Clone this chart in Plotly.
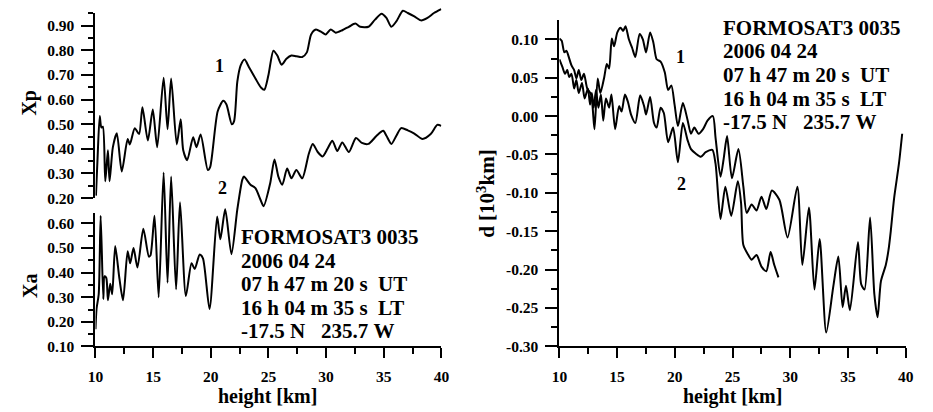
import plotly.graph_objects as go

# ---------------- data ----------------
# Left panel, curve 1: Xp vs height
h_xp = [10.04, 10.17, 10.37, 10.51, 10.64, 10.85, 11.08, 11.22, 11.51, 11.85, 12.28, 12.79, 12.98,
        13.41, 13.78, 14.07, 14.54, 14.97, 15.35, 15.91, 16.25, 16.56, 17.05, 17.39, 17.61, 17.95,
        18.47, 18.76, 19.12, 19.74, 19.95, 20.60, 21.08, 21.36, 21.82, 22.02, 22.30, 22.59, 22.93,
        23.30, 23.87, 24.35, 24.64, 25.00, 25.43, 25.77, 26.14, 26.56, 26.99, 27.42, 27.93, 28.33,
        28.70, 29.12, 29.55, 29.97, 30.40, 30.83, 31.40, 31.97, 32.53, 32.96, 33.67, 34.24, 34.81,
        35.23, 35.66, 36.09, 36.66, 37.08, 37.65, 38.22, 38.79, 39.35, 39.98]
xp = [0.21, 0.35, 0.533, 0.487, 0.49, 0.268, 0.394, 0.268, 0.407, 0.463, 0.308, 0.44, 0.418,
      0.484, 0.46, 0.569, 0.434, 0.56, 0.407, 0.689, 0.48, 0.686, 0.418, 0.52, 0.394, 0.354,
      0.447, 0.407, 0.458, 0.314, 0.327, 0.553, 0.595, 0.58, 0.50, 0.513, 0.673, 0.739, 0.763,
      0.733, 0.686, 0.649, 0.64, 0.70, 0.799, 0.779, 0.742, 0.766, 0.779, 0.776, 0.773, 0.792,
      0.865, 0.885, 0.876, 0.865, 0.885, 0.872, 0.882, 0.896, 0.909, 0.896, 0.896, 0.925, 0.949,
      0.932, 0.896, 0.918, 0.961, 0.952, 0.938, 0.922, 0.932, 0.952, 0.968]

# Left panel, curve 2: Xa vs height
h_xa = [10.00, 10.09, 10.28, 10.45, 10.68, 10.79, 10.94, 11.08, 11.28, 11.45, 11.71, 12.07, 12.39,
        12.79, 13.01, 13.30, 13.64, 14.15, 14.63, 14.77, 15.12, 15.48, 15.91, 16.25, 16.56, 16.99,
        17.33, 17.84, 18.33, 18.61, 19.04, 19.32, 19.89, 20.55, 20.83, 21.25, 21.79, 22.30, 22.73,
        22.87, 23.44, 23.87, 24.30, 24.58, 25.15, 25.52, 25.86, 26.20, 26.62, 26.99, 27.42, 27.93,
        28.50, 28.84, 29.27, 29.69, 30.12, 30.54, 30.97, 31.40, 31.97, 32.59, 33.10, 33.67, 34.38,
        34.95, 35.23, 35.66, 36.09, 36.51, 37.08, 37.65, 38.36, 39.07, 39.64, 39.98]
xa = [0.17, 0.252, 0.312, 0.631, 0.292, 0.385, 0.378, 0.288, 0.355, 0.312, 0.508, 0.378, 0.288,
      0.487, 0.438, 0.50, 0.421, 0.578, 0.465, 0.47, 0.631, 0.30, 0.807, 0.359, 0.79, 0.332,
      0.686, 0.305, 0.438, 0.415, 0.474, 0.458, 0.252, 0.628, 0.535, 0.657, 0.475, 0.657, 0.777,
      0.79, 0.757, 0.743, 0.697, 0.67, 0.763, 0.86, 0.79, 0.757, 0.823, 0.783, 0.817, 0.783,
      0.883, 0.923, 0.89, 0.872, 0.903, 0.936, 0.894, 0.929, 0.89, 0.947, 0.927, 0.923, 0.956,
      0.976, 0.956, 0.923, 0.956, 0.987, 0.978, 0.965, 0.943, 0.963, 1.0, 0.996]

# Right panel, curve 1: d vs height
h_d1 = [10.00, 10.20, 10.43, 10.62, 10.77, 11.05, 11.28, 11.47, 11.68, 11.90, 12.13, 12.41, 12.75,
        13.04, 13.32, 13.55, 13.89, 14.11, 14.31, 14.54, 14.74, 15.02, 15.30, 15.53, 15.73, 16.02,
        16.30, 16.58, 16.95, 17.23, 17.51, 17.86, 18.14, 18.43, 18.77, 19.13, 19.42, 19.70, 19.98,
        20.27, 20.70, 21.12, 21.40, 21.69, 22.06, 22.45, 22.83, 23.30, 23.53, 23.96, 24.24, 24.53,
        24.95, 25.51, 25.94, 26.23, 26.66, 27.08, 27.51, 27.93, 28.41, 29.06, 29.77, 30.62, 31.05,
        31.62, 32.10, 32.55, 33.12, 33.74, 34.17, 34.54, 34.83, 35.17, 35.87, 36.15, 36.44, 36.92,
        37.29, 37.57, 37.86, 38.28, 38.51, 38.71, 39.00, 39.42, 39.70]
d1 = [0.101, 0.098, 0.083, 0.085, 0.079, 0.066, 0.060, 0.049, 0.060, 0.047, 0.055, 0.036, 0.028,
      -0.017, 0.049, 0.030, 0.051, 0.068, 0.062, 0.101, 0.091, 0.109, 0.115, 0.111, 0.117, 0.100,
      0.089, 0.077, 0.107, 0.100, 0.083, 0.109, 0.096, 0.074, 0.071, 0.057, 0.034, 0.040, 0.015,
      -0.013, 0.017, -0.006, -0.023, -0.015, -0.023, -0.017, -0.006, 0.000, -0.028, -0.079, -0.055, -0.026,
      -0.081, -0.043, -0.092, -0.126, -0.115, -0.123, -0.105, -0.121, -0.097, -0.109, -0.158, -0.092, -0.194,
      -0.119, -0.226, -0.160, -0.282, -0.221, -0.183, -0.249, -0.221, -0.253, -0.164, -0.219, -0.226, -0.132,
      -0.232, -0.262, -0.215, -0.194, -0.175, -0.150, -0.107, -0.062, -0.023]

# Right panel, curve 2: d vs height
h_d2 = [10.00, 10.26, 10.49, 10.68, 10.85, 11.05, 11.28, 11.47, 11.68, 11.96, 12.19, 12.47, 12.66,
        12.81, 12.98, 13.17, 13.38, 13.60, 13.80, 14.03, 14.31, 14.51, 14.83, 15.17, 15.39, 15.68,
        15.93, 16.21, 16.58, 17.00, 17.34, 17.51, 17.86, 18.20, 18.43, 18.77, 19.05, 19.42, 19.85,
        20.27, 20.70, 21.12, 21.40, 21.83, 22.26, 22.68, 23.25, 23.53, 23.96, 24.38, 24.89, 25.46,
        25.74, 25.94, 26.37, 26.66, 27.08, 27.51, 27.93, 28.30, 28.62, 28.98]
d2 = [0.074, 0.064, 0.055, 0.060, 0.051, 0.055, 0.036, 0.047, 0.030, 0.043, 0.023, 0.036, 0.015,
      0.030, 0.011, 0.034, 0.011, 0.028, -0.006, 0.023, 0.011, 0.028, -0.017, 0.013, 0.006, 0.028,
      0.019, 0.002, -0.009, 0.027, 0.013, 0.002, 0.025, -0.009, -0.015, 0.011, 0.004, -0.034, -0.015,
      -0.060, -0.009, -0.032, -0.043, -0.049, -0.053, -0.047, -0.044, -0.062, -0.134, -0.092, -0.130, -0.085,
      -0.113, -0.168, -0.181, -0.187, -0.181, -0.196, -0.202, -0.177, -0.194, -0.210]

# Tick labels
x_ticks = [10, 15, 20, 25, 30, 35, 40]
xp_ticks = [0.20, 0.30, 0.40, 0.50, 0.60, 0.70, 0.80, 0.90]
xa_ticks = [0.10, 0.20, 0.30, 0.40, 0.50, 0.60]
d_ticks = [0.10, 0.05, 0.00, -0.05, -0.10, -0.15, -0.20, -0.25, -0.30]

info_lines = ["FORMOSAT3 0035", "2006 04 24", "07 h 47 m 20 s  UT",
              "16 h 04 m 35 s  LT", "-17.5 N   235.7 W"]

# ---------------- geometry helpers ----------------
W, H = 933, 412
FONT = "Liberation Serif"


def px_x(p):
    return p / W


def px_y(p):
    return 1 - p / H


def fmt(v):
    s = f"{abs(v):.2f}"
    return ("-" + s) if v < 0 else s


tick_font = dict(family=FONT, size=15.5, color="black", weight="bold")
CLEAR = "rgba(0,0,0,0)"

fig = go.Figure()

spl = dict(color="black", width=2, shape="spline", smoothing=0.7)
fig.add_trace(go.Scatter(x=h_xp, y=xp, xaxis="x", yaxis="y2", mode="lines", line=spl,
                         showlegend=False, hoverinfo="skip"))
fig.add_trace(go.Scatter(x=h_xa, y=xa, xaxis="x", yaxis="y", mode="lines", line=spl,
                         showlegend=False, hoverinfo="skip"))
fig.add_trace(go.Scatter(x=h_d1, y=d1, xaxis="x2", yaxis="y5", mode="lines", line=spl,
                         showlegend=False, hoverinfo="skip"))
fig.add_trace(go.Scatter(x=h_d2, y=d2, xaxis="x2", yaxis="y5", mode="lines", line=spl,
                         showlegend=False, hoverinfo="skip"))
# carriers for the visible left axes
fig.add_trace(go.Scatter(x=[None], y=[None], xaxis="x", yaxis="y3", mode="lines",
                         showlegend=False, hoverinfo="skip"))
fig.add_trace(go.Scatter(x=[None], y=[None], xaxis="x", yaxis="y4", mode="lines",
                         showlegend=False, hoverinfo="skip"))

# geometry (pixels)
L_X0, L_X1 = 89, 441
R_X0, R_X1 = 561, 913.3
BOT = 353.3
FULL_TOP = 5
XP_TOP, XP_BOT = 13, 202
XA_TOP = 217.7
R_TOP = 20.7

k = 0.1 / 25.1
xa_full = [0.1, 0.1 + (BOT - FULL_TOP) * k]
xp_full = [0.2 - (BOT - XP_BOT) * k, 0.2 + (XP_BOT - FULL_TOP) * k]
xp_vis = [0.2, 0.2 + (XP_BOT - XP_TOP) * k]
xa_vis = [0.1, 0.1 + (BOT - XA_TOP) * k]
kd = 0.05 / 39.15
d_rng = [-0.30, -0.30 + (BOT - R_TOP) * kd]

common_y = dict(showgrid=False, zeroline=False, showline=True, linecolor="black", linewidth=2,
                ticks="outside", ticklen=12, tickwidth=2, tickcolor="black",
                tickfont=tick_font, tickmode="array", ticklabelstandoff=4)
common_x = dict(showgrid=False, zeroline=False, showline=True, linecolor="black", linewidth=2,
                ticks="outside", ticklen=10, tickwidth=2, tickcolor="black",
                tickfont=tick_font, tickmode="array", tickvals=x_ticks,
                ticktext=[str(t) for t in x_ticks], range=[10, 40], ticklabelstandoff=5,
                minor=dict(tickmode="linear", tick0=10, dtick=2.5, ticks="outside",
                           ticklen=6, tickwidth=2, tickcolor="black", showgrid=False))
minor_y = dict(tickmode="linear", tick0=0.05, dtick=0.05, ticks="outside",
               ticklen=5, tickwidth=2, tickcolor="black", showgrid=False)

fig.update_layout(
    width=W, height=H, margin=dict(l=0, r=0, t=0, b=0),
    paper_bgcolor="white", plot_bgcolor=CLEAR, showlegend=False,
    xaxis=dict(domain=[px_x(L_X0), px_x(L_X1)], anchor="y4", **common_x),
    xaxis2=dict(domain=[px_x(R_X0), px_x(R_X1)], anchor="y5", **common_x),
    yaxis=dict(domain=[px_y(BOT), px_y(FULL_TOP)], range=xa_full, visible=False, anchor="x"),
    yaxis2=dict(range=xp_full, overlaying="y", visible=False, anchor="x"),
    yaxis3=dict(domain=[px_y(XP_BOT), px_y(XP_TOP)], range=xp_vis, anchor="x",
                tickvals=xp_ticks, ticktext=[fmt(v) for v in xp_ticks], minor=minor_y,
                **common_y),
    yaxis4=dict(domain=[px_y(BOT), px_y(XA_TOP)], range=xa_vis, anchor="x",
                tickvals=xa_ticks, ticktext=[fmt(v) for v in xa_ticks], minor=minor_y,
                **common_y),
    yaxis5=dict(domain=[px_y(BOT), px_y(R_TOP)], range=d_rng, anchor="x2",
                tickvals=d_ticks, ticktext=[fmt(v) for v in d_ticks],
                minor=dict(minor_y, tick0=0.025, ticklen=6),
                **common_y),
)

annos = []


def txt(text, x, y, size, xanchor="center", angle=0):
    annos.append(dict(text=text, x=px_x(x), y=px_y(y), xref="paper", yref="paper",
                      xanchor=xanchor, yanchor="middle", showarrow=False, textangle=angle,
                      font=dict(family=FONT, size=size, color="black", weight="bold")))


# axis titles
txt("Xp", 22, 105, 20, angle=-90)
txt("Xa", 23, 292, 20, angle=-90)
txt("d [10<sup>3</sup>km]", 486, 198, 21, angle=-90)
txt("height [km]", 264, 404, 20)
txt("height [km]", 737, 404, 20)

# curve labels
txt("1", 215, 67, 18)
txt("2", 218, 192, 18)
txt("1", 684, 58, 18)
txt("2", 685, 188, 18)

# info block
left_centres = [241, 265, 289, 313, 337]
right_centres = [27.5, 51.5, 75.5, 99.5, 123.5]
for line, yc in zip(info_lines, left_centres):
    txt(line.replace(" ", "\u00a0"), 235, yc + 1, 21, xanchor="left")
for line, yc in zip(info_lines, right_centres):
    txt(line.replace(" ", "\u00a0"), 725, yc + 1, 21, xanchor="left")

fig.update_layout(annotations=annos)

fig.write_html("out.html")
